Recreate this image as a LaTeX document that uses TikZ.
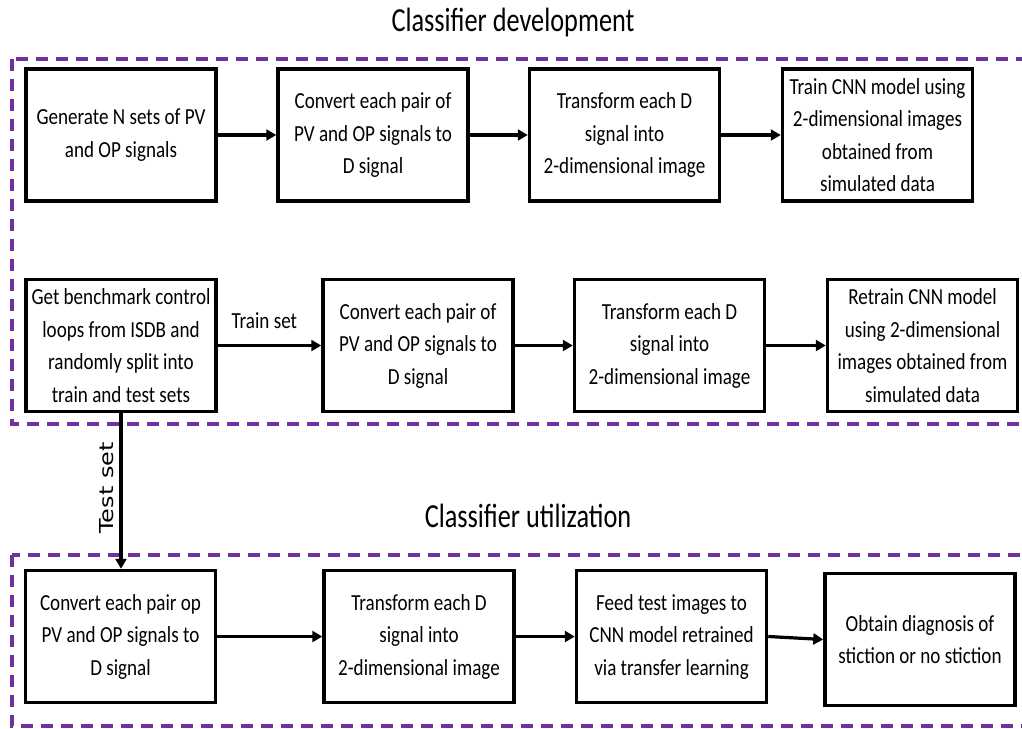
\documentclass[tikz,border=0pt]{standalone}
\usepackage{fontspec}
\setmainfont{Carlito}[FakeStretch=0.83]
\newfontfamily\titlefont{Carlito}[FakeStretch=0.78]
\newfontfamily\setlabelfont{DejaVu Sans}
\usetikzlibrary{arrows.meta}
\definecolor{regionpurple}{HTML}{7030A0}
\begin{document}
\begin{tikzpicture}[x=1pt,y=1pt,
  stepbox/.style={draw=black, line width=3.5pt, minimum width=190pt, minimum height=132pt,
    align=center, inner sep=0pt, font=\fontsize{23}{32.5}\selectfont},
  flow/.style={draw=black, line width=3.2pt, -{Triangle[length=10pt,width=11pt]}},
  region/.style={draw=regionpurple, line width=3.8pt, dash pattern=on 12pt off 8pt},
  heading/.style={font=\titlefont\fontsize{33.7}{40}\selectfont, anchor=base, inner sep=0pt},
  edgelabel/.style={font=\fontsize{23}{27}\selectfont, inner sep=0pt}]

\path[use as bounding box] (0,0) rectangle (1022,-728);

% dashed regions, open to the right
\begin{scope}
  \clip (0,0) rectangle (1022,-728);
  \draw[region] (12,-59) rectangle (1045,-424);
  \draw[region] (12,-555) rectangle (1045,-726);
\end{scope}

% headings
\node[heading] (title1) at (513,-31.7) {Classifier development};
\node[heading] (title2) at (528,-527) {Classifier utilization};

% classifier development, first row
\node[stepbox] (b1) at (121,-135) {Generate N sets of PV\\and OP signals};
\node[stepbox] (b2) at (373,-135) {Convert each pair of\\PV and OP signals to\\D signal};
\node[stepbox] (b3) at (624.5,-135) {Transform each D\\signal into\\2-dimensional image};
\node[stepbox] (b4) at (877.5,-135) {Train CNN model using\\2-dimensional images\\obtained from\\simulated data};

% classifier development, second row
\node[stepbox] (b5) at (121,-345.5) {Get benchmark control\\loops from ISDB and\\randomly split into\\train and test sets};
\node[stepbox] (b6) at (418,-345.5) {Convert each pair of\\PV and OP signals to\\D signal};
\node[stepbox] (b7) at (669.5,-345.5) {Transform each D\\signal into\\2-dimensional image};
\node[stepbox] (b8) at (922.5,-345.5) {Retrain CNN model\\using 2-dimensional\\images obtained from\\simulated data};

% classifier utilization
\node[stepbox] (b9) at (120.5,-636.5) {Convert each pair op\\PV and OP signals to\\D signal};
\node[stepbox] (b10) at (419,-636.5) {Transform each D\\signal into\\2-dimensional image};
\node[stepbox] (b11) at (671.5,-636.5) {Feed test images to\\CNN model retrained\\via transfer learning};
\node[stepbox] (b12) at (920,-639.5) {Obtain diagnosis of\\stiction or no stiction};

% connectors
\draw[flow] (b1) -- (b2);
\draw[flow] (b2) -- (b3);
\draw[flow] (b3) -- (b4);
\draw[flow] (b5) -- node[edgelabel, pos=0.45, anchor=base, yshift=17pt] (trainlbl) {Train set} (b6);
\draw[flow] (b6) -- (b7);
\draw[flow] (b7) -- (b8);
\draw[flow] (b5.south) -- node[pos=0.48, rotate=90, anchor=south, inner sep=5.5pt,
    font=\setlabelfont\fontsize{24}{28}\selectfont] (testlbl) {\scalebox{1}[0.8]{Test set}}
  (b5.south |- b9.north);
\draw[flow] (b9) -- (b10);
\draw[flow] (b10) -- (b11);
\draw[flow] (b11.east) -- (b12.west);
\end{tikzpicture}
\end{document}
